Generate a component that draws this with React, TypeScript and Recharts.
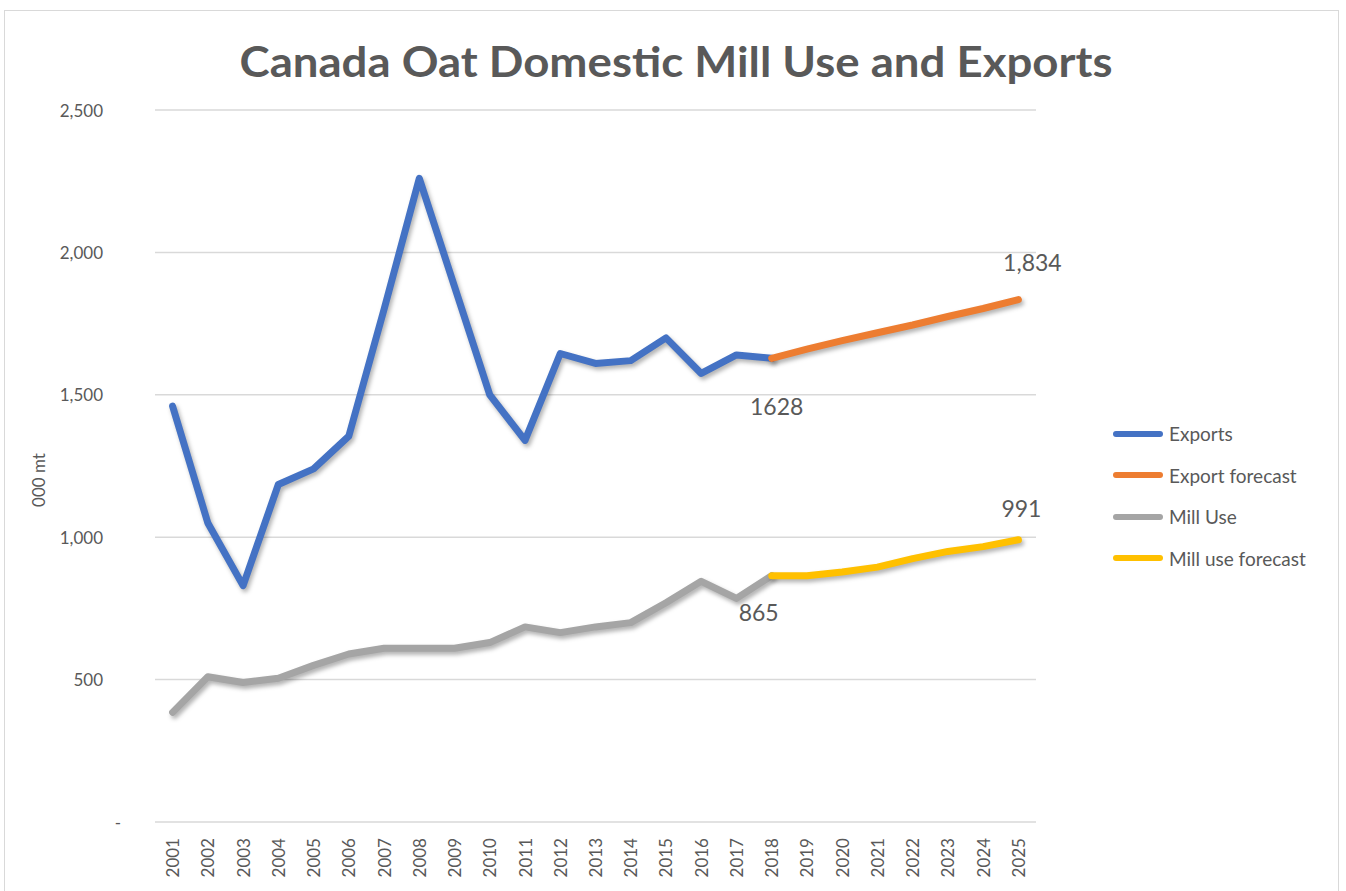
import React from 'react';
import { LineChart, Line, XAxis, YAxis, CartesianGrid, Legend, LabelList } from 'recharts';

const years = [
  '2001', '2002', '2003', '2004', '2005', '2006', '2007', '2008', '2009', '2010', '2011', '2012', '2013',
  '2014', '2015', '2016', '2017', '2018', '2019', '2020', '2021', '2022', '2023', '2024', '2025',
];
// 2001-2018
const exportsHist = [1460, 1050, 830, 1185, 1240, 1355, 1800, 2260, 1880, 1500, 1340, 1645, 1610, 1620, 1700, 1575, 1640, 1628];
// 2018-2025
const exportsForecast = [1628, 1660, 1690, 1718, 1745, 1775, 1803, 1834];
// 2001-2018
const millUseHist = [385, 510, 490, 505, 550, 590, 610, 610, 610, 630, 685, 665, 685, 700, 770, 845, 785, 865];
// 2018-2025
const millUseForecast = [865, 865, 878, 895, 925, 950, 967, 991];
const yTicks = [0, 500, 1000, 1500, 2000, 2500];
const seriesNames = ['Exports', 'Export forecast', 'Mill Use', 'Mill use forecast'];

const forecastStart = years.indexOf('2018');
const lastIdx = years.length - 1;

const data = years.map((year, i) => ({
  year,
  exports: i < exportsHist.length ? exportsHist[i] : null,
  exportForecast: i >= forecastStart ? exportsForecast[i - forecastStart] : null,
  millUse: i < millUseHist.length ? millUseHist[i] : null,
  millUseForecast: i >= forecastStart ? millUseForecast[i - forecastStart] : null,
}));

const FONT = 'Lato, "Open Sans", sans-serif';
const TEXT = '#595959';
const W = 1346;
const H = 891;

const plain = (v: number) => String(v);
const comma = (v: number) => v.toLocaleString('en-US');

const pointLabel = (target: number, dx: number, dy: number, fmt: (v: number) => string) => (props: any) => {
  const { index, value } = props;
  if (index !== target || value == null) return null;
  const x = props.x ?? props.viewBox?.x;
  const y = props.y ?? props.viewBox?.y;
  return (
    <text x={x + dx} y={y + dy} textAnchor="middle" dominantBaseline="central" fill={TEXT} fontSize={23} fontFamily={FONT}>
      {fmt(Number(value))}
    </text>
  );
};

const YearTick = (props: any) => {
  const { x, y, payload } = props;
  return (
    <text
      x={x}
      y={y}
      transform={`rotate(-90, ${x}, ${y})`}
      textAnchor="end"
      dominantBaseline="central"
      fill={TEXT}
      fontSize={17}
      fontFamily={FONT}
    >
      {payload.value}
    </text>
  );
};

const ValueTick = (props: any) => {
  const { x, y, payload } = props;
  const zero = payload.value === 0;
  return (
    <text x={zero ? x + 18 : x} y={y} textAnchor="end" dominantBaseline="central" fill={TEXT} fontSize={17} fontFamily={FONT}>
      {zero ? '-' : comma(payload.value)}
    </text>
  );
};

const LegendBox = (props: any) => {
  const items = props.payload || [];
  const ordered = seriesNames.map((n) => items.find((it: any) => it.value === n)).filter(Boolean);
  return (
    <div style={{ fontFamily: FONT, color: TEXT, fontSize: 19 }}>
      {ordered.map((it: any) => (
        <div key={it.value} style={{ display: 'flex', alignItems: 'center', height: 41.5 }}>
          <span style={{ display: 'inline-block', width: 50, height: 6, borderRadius: 3, background: it.color, marginRight: 6 }} />
          <span>{it.value}</span>
        </div>
      ))}
    </div>
  );
};

export default function App() {
  return (
    <div style={{ position: 'absolute', left: 0, top: 0, width: W, height: H, background: '#fff', overflow: 'hidden' }}>
      <style>{`.recharts-line-curve { filter: drop-shadow(2px 3px 2px rgba(0,0,0,0.3)); }`}</style>
      <div style={{ position: 'absolute', left: 4, top: 10, width: 1335, height: 900, border: '1px solid #D9D9D9', boxSizing: 'border-box' }} />
      <svg style={{ position: 'absolute', left: 0, top: 0 }} width={W} height={H}>
        <text x={676} y={77} textAnchor="middle" fill={TEXT} fontSize={42} fontWeight={700} fontFamily={FONT} textLength={873} lengthAdjust="spacingAndGlyphs">
          Canada Oat Domestic Mill Use and Exports
        </text>
        <text x={38} y={480} transform="rotate(-90, 38, 480)" textAnchor="middle" dominantBaseline="central" fill={TEXT} fontSize={17} fontFamily={FONT}>
          000 mt
        </text>
      </svg>
      <div style={{ position: 'absolute', left: 0, top: 0 }}>
        <LineChart width={W} height={H} data={data} margin={{ top: 110, right: 310, bottom: 0, left: 75 }}>
          <CartesianGrid vertical={false} stroke="#D9D9D9" strokeWidth={1.5} />
          <XAxis
            dataKey="year"
            interval={0}
            padding={{ left: 17.6, right: 17.6 }}
            tickLine={false}
            axisLine={false}
            tickSize={6}
            tickMargin={10}
            height={69}
            tick={<YearTick />}
          />
          <YAxis
            domain={[0, 2500]}
            ticks={yTicks}
            interval={0}
            width={80}
            tickLine={false}
            axisLine={false}
            tickSize={6}
            tickMargin={46}
            tick={<ValueTick />}
          />
          <Legend
            layout="vertical"
            align="center"
            verticalAlign="middle"
            content={<LegendBox />}
            wrapperStyle={{ position: 'absolute', left: 1113, top: 413, width: 230 }}
          />
          <Line type="linear" dataKey="exports" name="Exports" stroke="#4472C4" strokeWidth={7} strokeLinecap="round" strokeLinejoin="round" dot={false} activeDot={false} isAnimationActive={false}>
            <LabelList dataKey="exports" content={pointLabel(forecastStart, 5, 48, plain)} />
          </Line>
          <Line type="linear" dataKey="exportForecast" name="Export forecast" stroke="#ED7D31" strokeWidth={7} strokeLinecap="round" strokeLinejoin="round" dot={false} activeDot={false} isAnimationActive={false}>
            <LabelList dataKey="exportForecast" content={pointLabel(lastIdx, 14, -38, comma)} />
          </Line>
          <Line type="linear" dataKey="millUse" name="Mill Use" stroke="#A5A5A5" strokeWidth={7} strokeLinecap="round" strokeLinejoin="round" dot={false} activeDot={false} isAnimationActive={false}>
            <LabelList dataKey="millUse" content={pointLabel(forecastStart, -13, 36, plain)} />
          </Line>
          <Line type="linear" dataKey="millUseForecast" name="Mill use forecast" stroke="#FFC000" strokeWidth={7} strokeLinecap="round" strokeLinejoin="round" dot={false} activeDot={false} isAnimationActive={false}>
            <LabelList dataKey="millUseForecast" content={pointLabel(lastIdx, 3, -32, plain)} />
          </Line>
        </LineChart>
      </div>
    </div>
  );
}
